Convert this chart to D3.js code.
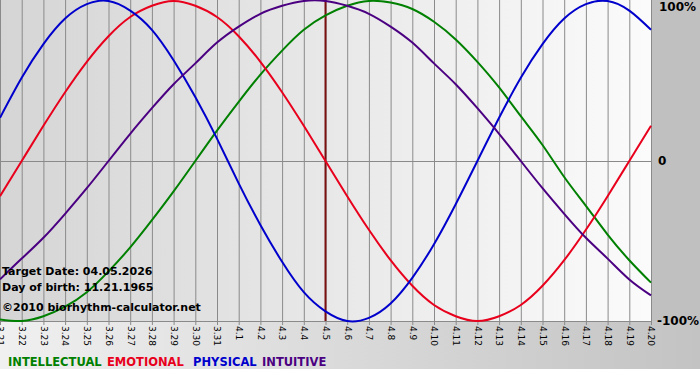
<!DOCTYPE html>
<html>
<head>
<meta charset="utf-8">
<script src="https://cdn.jsdelivr.net/npm/d3@7"></script>
<style>
  body { margin: 0; background: #fff; }
  svg { display: block; }
</style>
</head>
<body>
<div id="chart"></div>
<script>
// day labels (month.day)
var days = ["3.21","3.22","3.23","3.24","3.25","3.26","3.27","3.28","3.29","3.30","3.31",
  "4.1","4.2","4.3","4.4","4.5","4.6","4.7","4.8","4.9","4.10","4.11","4.12","4.13",
  "4.14","4.15","4.16","4.17","4.18","4.19","4.20"];
var targetDay = "4.5";

// cycle values, -1 .. 1
var physical = [0.27,0.52,0.73,0.89,0.98,1.00,0.94,0.82,0.63,0.40,0.14,-0.14,-0.40,-0.63,-0.82,
  -0.94,-1.00,-0.98,-0.89,-0.73,-0.52,-0.27,0.00,0.27,0.52,0.73,0.89,0.98,1.00,0.94,0.82];
var emotional = [-0.22,0.00,0.22,0.43,0.62,0.78,0.90,0.97,1.00,0.97,0.90,0.78,0.62,0.43,0.22,
  0.00,-0.22,-0.43,-0.62,-0.78,-0.90,-0.97,-1.00,-0.97,-0.90,-0.78,-0.62,-0.43,-0.22,0.00,0.22];
var intellectual = [-0.99,-1.00,-0.97,-0.91,-0.82,-0.69,-0.54,-0.37,-0.19,0.00,0.19,0.37,0.54,0.69,0.82,
  0.91,0.97,1.00,0.99,0.95,0.87,0.76,0.62,0.46,0.28,0.10,-0.10,-0.28,-0.46,-0.62,-0.76];
var intuitive = [-0.74,-0.61,-0.48,-0.33,-0.17,0.00,0.17,0.33,0.48,0.61,0.74,0.84,0.92,0.97,1.00,
  1.00,0.97,0.92,0.84,0.74,0.61,0.48,0.33,0.17,0.00,-0.17,-0.33,-0.48,-0.61,-0.74,-0.84];

var seriesNames = ["INTELLECTUAL", "EMOTIONAL", "PHYSICAL", "INTUITIVE"];
var seriesColors = ["#008000", "#e8001c", "#0000cc", "#4b0082"];
var yTicks = [1, 0, -1];
var yTickLabels = ["100%", "0", "-100%"];
var infoLines = ["Target Date: 04.05.2026", "Day of birth: 11.21.1965", "\u00a92010 biorhythm-calculator.net"];

var W = 700, H = 380;
var plotW = 651, plotTop = 1, plotBottom = 321;

var svg = d3.select("#chart").append("svg")
  .attr("width", W).attr("height", H);

var defs = svg.append("defs");
var g1 = defs.append("linearGradient").attr("id", "plotBg");
g1.append("stop").attr("offset", "0%").attr("stop-color", "#d5d5d5");
g1.append("stop").attr("offset", "100%").attr("stop-color", "#fbfbfb");
var g2 = defs.append("linearGradient").attr("id", "bandBg");
g2.append("stop").attr("offset", "0%").attr("stop-color", "#f0f0f0");
g2.append("stop").attr("offset", "100%").attr("stop-color", "#c3c3c3");

// backgrounds
svg.append("rect").attr("x", 0).attr("y", 0).attr("width", W).attr("height", 369)
  .attr("fill", "url(#bandBg)");
svg.append("rect").attr("x", plotW).attr("y", 0).attr("width", W - plotW).attr("height", plotBottom)
  .attr("fill", "#c0c0c0");
svg.append("rect").attr("x", 0).attr("y", 0).attr("width", plotW).attr("height", plotBottom)
  .attr("fill", "url(#plotBg)");

var x = d3.scalePoint().domain(days).range([0, plotW]);
var y = d3.scaleLinear().domain([-1, 1]).range([plotBottom, plotTop]);

// vertical grid + ticks
svg.append("g").selectAll("line").data(days).enter().append("line")
  .attr("x1", d => x(d) + 0.5).attr("x2", d => x(d) + 0.5)
  .attr("y1", 0).attr("y2", plotBottom + 4)
  .attr("stroke", "#8a8a8a").attr("stroke-width", 1);

// zero line
svg.append("line")
  .attr("x1", 0).attr("x2", plotW).attr("y1", Math.round(y(0)) + 0.5).attr("y2", Math.round(y(0)) + 0.5)
  .attr("stroke", "#8a8a8a");
// bottom axis
svg.append("line")
  .attr("x1", 0).attr("x2", plotW + 1).attr("y1", plotBottom + 0.5).attr("y2", plotBottom + 0.5)
  .attr("stroke", "#8a8a8a");

// x labels, rotated
svg.append("g").selectAll("text").data(days).enter().append("text")
  .attr("transform", d => `translate(${x(d) + 0.5},${plotBottom + 5}) rotate(90)`)
  .attr("dy", "0.35em")
  .attr("font-family", "DejaVu Sans, Verdana, sans-serif")
  .attr("font-size", "9px")
  .attr("fill", "#000")
  .text(d => d);

// y labels (top one nudged down so it stays inside)
svg.append("g").selectAll("text").data(yTicks).enter().append("text")
  .attr("x", (d, i) => [659, 658, 657][i])
  .attr("y", (d, i) => i == 0 ? y(d) + 6 : y(d))
  .attr("dy", "0.35em")
  .attr("font-family", "DejaVu Sans, Verdana, sans-serif")
  .attr("font-size", "12px")
  .attr("font-weight", "bold")
  .text((d, i) => yTickLabels[i]);

// target day marker
svg.append("line")
  .attr("x1", x(targetDay)).attr("x2", x(targetDay))
  .attr("y1", 0).attr("y2", plotBottom)
  .attr("stroke", "#7a1010").attr("stroke-width", 2);

// curves
var line = d3.line()
  .x((d, i) => x(days[i]))
  .y(d => y(d))
  .curve(d3.curveNatural);

[intellectual, emotional, physical, intuitive].forEach(function(vals, k) {
  svg.append("path")
    .datum(vals)
    .attr("d", line)
    .attr("fill", "none")
    .attr("stroke", seriesColors[k])
    .attr("stroke-width", 2);
});

// info text
svg.append("g").selectAll("text").data(infoLines).enter().append("text")
  .attr("x", 2)
  .attr("y", (d, i) => [275, 291, 311][i])
  .attr("font-family", "DejaVu Sans, Verdana, sans-serif")
  .attr("font-size", "11px")
  .attr("font-weight", "bold")
  .attr("fill", "#000")
  .text(d => d);

// legend
svg.append("g").selectAll("text").data(seriesNames).enter().append("text")
  .attr("x", (d, i) => [8, 107, 193, 262][i])
  .attr("y", 366)
  .attr("font-family", "DejaVu Sans, Verdana, sans-serif")
  .attr("font-size", "11.5px")
  .attr("font-weight", "bold")
  .attr("fill", (d, i) => seriesColors[i])
  .text(d => d);
</script>
</body>
</html>
